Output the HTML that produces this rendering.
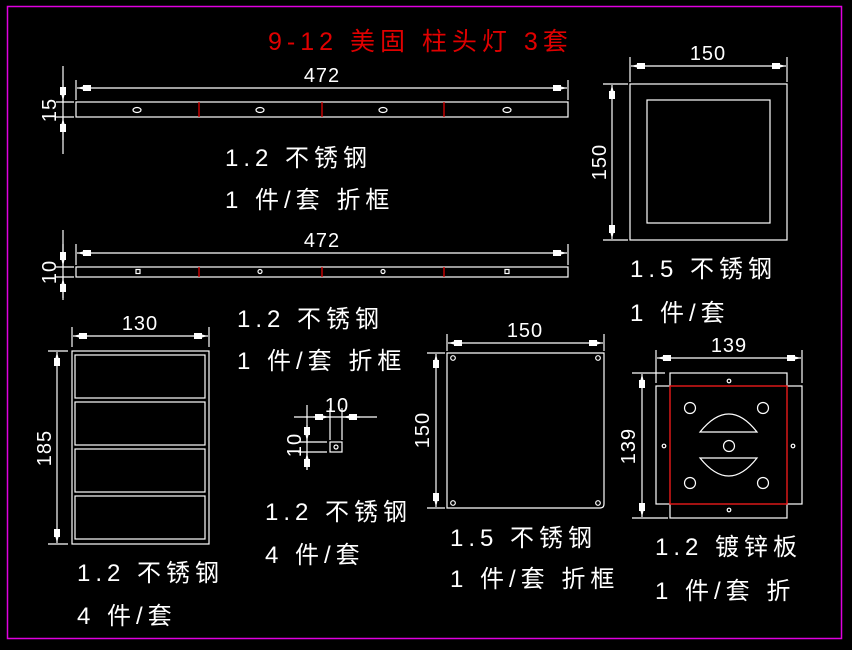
<!DOCTYPE html>
<html><head><meta charset="utf-8"><style>
html,body{margin:0;padding:0;background:#000;}
svg{display:block}
text{font-family:"Liberation Sans","Noto Sans CJK SC",sans-serif;fill:#fff;font-weight:normal}
</style></head><body>
<svg width="852" height="650" viewBox="0 0 852 650" xmlns="http://www.w3.org/2000/svg">
<defs>
<marker id="a" viewBox="0 0 14 6" refX="14" refY="3" markerWidth="14" markerHeight="6" markerUnits="userSpaceOnUse" orient="auto-start-reverse">
<path d="M14,3 L8,1.5 L8,0 L0,0 L0,6 L8,6 L8,4.5 Z" fill="#fff"/>
</marker>
</defs>
<rect x="0" y="0" width="852" height="650" fill="#000"/>
<rect x="7.5" y="6.5" width="834" height="632" fill="none" stroke="#e000e0" stroke-width="1.5"/>
<g stroke="#fff" stroke-width="1.2" fill="none">
<!-- bar 1 -->
<rect x="76" y="102" width="492" height="15"/>
<line x1="76" y1="80" x2="76" y2="100"/><line x1="568" y1="80" x2="568" y2="100"/>
<line x1="77" y1="88" x2="567" y2="88" marker-start="url(#a)" marker-end="url(#a)"/>
<line x1="63" y1="66" x2="63" y2="154"/>
<line x1="56" y1="102" x2="74" y2="102"/><line x1="56" y1="117" x2="74" y2="117"/>
<line x1="63" y1="101" x2="63" y2="80" marker-start="url(#a)"/>
<line x1="63" y1="118" x2="63" y2="140" marker-start="url(#a)"/>
<ellipse cx="137" cy="110" rx="4" ry="2.5"/><ellipse cx="260" cy="110" rx="4" ry="2.5"/>
<ellipse cx="383" cy="110" rx="4" ry="2.5"/><ellipse cx="507" cy="110" rx="4" ry="2.5"/>
<!-- bar 2 -->
<rect x="76" y="267" width="492" height="10"/>
<line x1="76" y1="244" x2="76" y2="265"/><line x1="568" y1="244" x2="568" y2="265"/>
<line x1="77" y1="253" x2="567" y2="253" marker-start="url(#a)" marker-end="url(#a)"/>
<line x1="63" y1="230" x2="63" y2="300"/>
<line x1="56" y1="267" x2="74" y2="267"/><line x1="56" y1="277" x2="74" y2="277"/>
<line x1="63" y1="266" x2="63" y2="244" marker-start="url(#a)"/>
<line x1="63" y1="278" x2="63" y2="298" marker-start="url(#a)"/>
<rect x="136" y="269.5" width="4" height="4"/><circle cx="260" cy="271.5" r="2"/>
<circle cx="383" cy="271.5" r="2"/><rect x="505" y="269.5" width="4" height="4"/>
<!-- right square -->
<rect x="630" y="84" width="157" height="156"/>
<rect x="647" y="100" width="123" height="123"/>
<line x1="630" y1="57" x2="630" y2="82"/><line x1="787" y1="57" x2="787" y2="82"/>
<line x1="631" y1="66" x2="786" y2="66" marker-start="url(#a)" marker-end="url(#a)"/>
<line x1="603" y1="84" x2="628" y2="84"/><line x1="603" y1="240" x2="628" y2="240"/>
<line x1="612" y1="85" x2="612" y2="239" marker-start="url(#a)" marker-end="url(#a)"/>
<!-- left panel -->
<rect x="72" y="351" width="137" height="193"/>
<rect x="75" y="355" width="130" height="43"/><rect x="75" y="402" width="130" height="43"/>
<rect x="75" y="449" width="130" height="43"/><rect x="75" y="496" width="130" height="43"/>
<line x1="72" y1="327" x2="72" y2="347"/><line x1="209" y1="327" x2="209" y2="347"/>
<line x1="73" y1="336" x2="208" y2="336" marker-start="url(#a)" marker-end="url(#a)"/>
<line x1="48" y1="351" x2="68" y2="351"/><line x1="48" y1="544" x2="68" y2="544"/>
<line x1="57" y1="352" x2="57" y2="543" marker-start="url(#a)" marker-end="url(#a)"/>
<!-- small part -->
<rect x="330" y="442" width="12" height="10"/>
<circle cx="336" cy="447" r="2"/>
<line x1="330" y1="408" x2="330" y2="440"/><line x1="342" y1="408" x2="342" y2="440"/>
<line x1="294" y1="417" x2="377" y2="417"/>
<line x1="329" y1="417" x2="313" y2="417" marker-start="url(#a)"/>
<line x1="343" y1="417" x2="360" y2="417" marker-start="url(#a)"/>
<line x1="298" y1="442" x2="327" y2="442"/><line x1="298" y1="452" x2="327" y2="452"/>
<line x1="307" y1="405" x2="307" y2="470"/>
<line x1="307" y1="441" x2="307" y2="425" marker-start="url(#a)"/>
<line x1="307" y1="453" x2="307" y2="470" marker-start="url(#a)"/>
<!-- center square -->
<path d="M447,353 H604 V504 Q604,508 600,508 H447 Z"/>
<circle cx="453" cy="358" r="2.3"/><circle cx="598" cy="358" r="2.3"/>
<circle cx="453" cy="503" r="2.3"/><circle cx="598" cy="503" r="2.3"/>
<line x1="447" y1="334" x2="447" y2="351"/><line x1="604" y1="334" x2="604" y2="351"/>
<line x1="448" y1="343" x2="603" y2="343" marker-start="url(#a)" marker-end="url(#a)"/>
<line x1="427" y1="353" x2="445" y2="353"/><line x1="427" y1="508" x2="445" y2="508"/>
<line x1="436" y1="354" x2="436" y2="507" marker-start="url(#a)" marker-end="url(#a)"/>
<!-- plate -->
<rect x="670" y="373" width="117" height="145"/>
<rect x="656" y="386" width="146" height="118"/>
<line x1="656" y1="350" x2="656" y2="383"/><line x1="802" y1="350" x2="802" y2="383"/>
<line x1="657" y1="358" x2="801" y2="358" marker-start="url(#a)" marker-end="url(#a)"/>
<line x1="632" y1="373" x2="665" y2="373"/><line x1="632" y1="518" x2="668" y2="518"/>
<line x1="642" y1="374" x2="642" y2="517" marker-start="url(#a)" marker-end="url(#a)"/>
<circle cx="690" cy="408" r="5.5"/><circle cx="763" cy="408" r="5.5"/>
<circle cx="690" cy="483" r="5.5"/><circle cx="763" cy="483" r="5.5"/>
<circle cx="729" cy="446" r="5.5"/>
<path d="M700,432 Q729,396 757,432 Z"/>
<path d="M700,458 Q729,494 757,458 Z"/>
<circle cx="729" cy="381" r="1.8"/><circle cx="729" cy="510" r="1.8"/>
<circle cx="664" cy="446" r="1.8"/><circle cx="793" cy="446" r="1.8"/>
</g>
<g stroke="#e00000" stroke-width="1.3" fill="none">
<line x1="199" y1="102" x2="199" y2="117"/><line x1="322" y1="102" x2="322" y2="117"/><line x1="444" y1="102" x2="444" y2="117"/>
<line x1="199" y1="267" x2="199" y2="277"/><line x1="322" y1="267" x2="322" y2="277"/><line x1="444" y1="267" x2="444" y2="277"/>
<rect x="670" y="386" width="117" height="118"/>
</g>
<text x="268" y="50" font-size="25" style="fill:#e00000" letter-spacing="5">9-12 美固 柱头灯 3套</text>
<g font-size="20" letter-spacing="1">
<text x="322" y="82" text-anchor="middle">472</text>
<text x="322" y="247" text-anchor="middle">472</text>
<text x="708" y="60" text-anchor="middle">150</text>
<text x="140" y="330" text-anchor="middle">130</text>
<text x="525" y="337" text-anchor="middle">150</text>
<text x="729" y="352" text-anchor="middle">139</text>
<text x="337" y="412" text-anchor="middle">10</text>
<text transform="translate(56,110) rotate(-90)" text-anchor="middle">15</text>
<text transform="translate(56,272) rotate(-90)" text-anchor="middle">10</text>
<text transform="translate(606,162) rotate(-90)" text-anchor="middle">150</text>
<text transform="translate(51,448) rotate(-90)" text-anchor="middle">185</text>
<text transform="translate(429,430) rotate(-90)" text-anchor="middle">150</text>
<text transform="translate(635,446) rotate(-90)" text-anchor="middle">139</text>
<text transform="translate(301,445) rotate(-90)" text-anchor="middle">10</text>
</g>
<g font-size="24" letter-spacing="5">
<text x="225" y="166">1.2 不锈钢</text>
<text x="225" y="208">1 件/套 折框</text>
<text x="630" y="277">1.5 不锈钢</text>
<text x="630" y="321">1 件/套</text>
<text x="237" y="327">1.2 不锈钢</text>
<text x="237" y="369">1 件/套 折框</text>
<text x="77" y="581">1.2 不锈钢</text>
<text x="77" y="624">4 件/套</text>
<text x="265" y="520">1.2 不锈钢</text>
<text x="265" y="563">4 件/套</text>
<text x="450" y="546">1.5 不锈钢</text>
<text x="450" y="587">1 件/套 折框</text>
<text x="655" y="555">1.2 镀锌板</text>
<text x="655" y="599">1 件/套 折</text>
</g>
</svg>
</body></html>
